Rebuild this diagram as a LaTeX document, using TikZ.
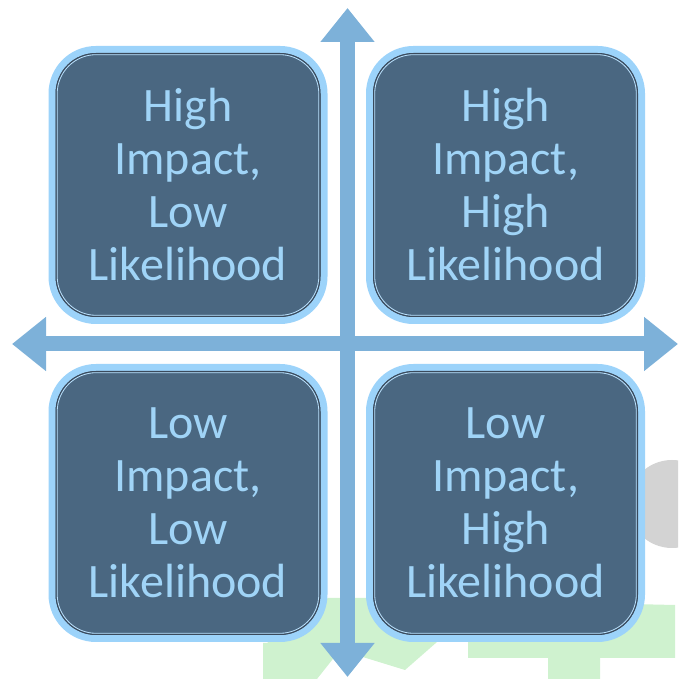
\documentclass[tikz,border=0pt]{standalone}
\usepackage{fontspec}
\setmainfont{Carlito}
\usepackage{tikz}
\usetikzlibrary{
    arrows.meta,
    calc,
}
\definecolor{quadfill}{HTML}{4A6781}
\definecolor{quadband}{HTML}{9CD3FA}
\definecolor{quadline}{HTML}{3A4A5C}
\definecolor{quadtext}{HTML}{A0D4F7}
\definecolor{axisblue}{HTML}{7DB1D9}
\definecolor{leftover}{HTML}{CFF2CF}
\definecolor{leftgray}{HTML}{D3D3D3}
\tikzset{
    quadrant/.style={
        draw=quadband, line width=7pt, fill=quadfill, rounded corners=44pt,
        minimum width=272pt, minimum height=271pt, inner sep=0pt, outer sep=0pt,
        text=quadtext, align=center, font=\fontsize{48}{53}\selectfont,
    },
    quadinner/.style={draw=quadline, line width=1pt, rounded corners=40pt},
    quadglow/.style={draw=quadband!70!white, line width=0.8pt, rounded corners=39pt},
    axis/.style={draw=axisblue, line width=15pt, {Triangle[width=52pt,length=34pt]}-{Triangle[width=52pt,length=34pt]}},
}

\begin{document}
\begin{tikzpicture}[x=1pt, y=1pt]
    \useasboundingbox (0,0) rectangle (678,679);
    \begin{scope}
        \clip (0,0) rectangle (678,679);
        % what is left of the shapes behind
        \fill[leftgray] (672,175) circle (44);
        \fill[leftover] (263,0) -- (317,0) -- (340,29) -- (405,9) -- (437,37) -- (468,37)
            -- (468,21) -- (548,21) -- (548,0) -- (600,0) -- (600,21) -- (675,21) -- (675,74)
            -- (367,81) -- (328,81) -- (267,36) -- (263,36) -- cycle;
    \end{scope}

    \coordinate (top) at (347.5,671);
    \coordinate (bottom) at (347.5,2);
    \coordinate (left) at (12,335);
    \coordinate (right) at (678,335);
    \draw[axis] (bottom) -- (top);
    \draw[axis] (left) -- (right);

    \node[quadrant] (hilo) at (188,494) {High\\Impact,\\Low\\Likelihood};
    \node[quadrant] (hihi) at (505.5,494) {High\\Impact,\\High\\Likelihood};
    \node[quadrant] (lolo) at (188,176) {Low\\Impact,\\Low\\Likelihood};
    \node[quadrant] (lohi) at (505.5,176) {Low\\Impact,\\High\\Likelihood};

    \foreach \q in {hilo,hihi,lolo,lohi} {
        \draw[quadinner] ([shift={(4,4)}]\q.south west) rectangle ([shift={(-4,-4)}]\q.north east);
        \draw[quadglow] ([shift={(5.2,5.2)}]\q.south west) rectangle ([shift={(-5.2,-5.2)}]\q.north east);
    }
\end{tikzpicture}
\end{document}
